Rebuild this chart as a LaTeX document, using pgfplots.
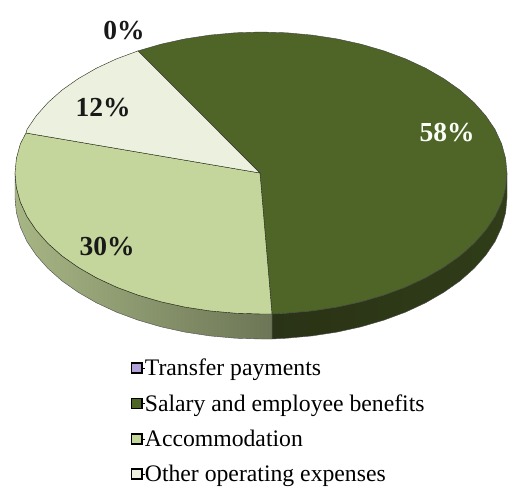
\documentclass[border=0pt]{standalone}
\usepackage{pgfplots}
\pgfplotsset{compat=1.18}
\usepackage{fontspec}
\setmainfont{Liberation Serif}
\definecolor{salary}{HTML}{4F6528}
\definecolor{accom}{HTML}{C5D69C}
\definecolor{other}{HTML}{EBF1DE}
\definecolor{transfer}{HTML}{B3A2D8}
\definecolor{walldarkA}{HTML}{2A3316}
\definecolor{walldarkB}{HTML}{303D18}
\begin{document}
\begin{tikzpicture}
\path (0,0) rectangle (512pt,498pt);
\begin{axis}[
  at={(0,0)}, anchor=south west,
  scale only axis, width=512pt, height=498pt,
  xmin=0, xmax=512, ymin=0, ymax=498, y dir=reverse,
  hide axis, clip=false, no marks,
  legend cell align=left,
  legend style={at={(axis cs:130.5,359)}, anchor=north west, draw=none, fill=none,
    font=\fontsize{23.7}{25}\selectfont, row sep=17.3pt, inner sep=0pt, outer sep=0pt,
    nodes={inner sep=0pt, outer sep=0pt}},
  legend image code/.code={
    \path (0pt,0pt) -- (14pt,0pt);
    \path[#1, draw=black, line width=1.6pt] (0.8pt,-5pt) rectangle (11pt,5.2pt);
  },
]
% Side wall below the salary slice
\addplot[forget plot, draw=black!70, line width=.4pt, left color=walldarkA, right color=walldarkB] coordinates {
 (272,314) (286.7,313.2) (312.1,310.9) (337,307.1) (361.1,301.8) (384,295.1) (405.6,287.1) (425.6,277.8) (443.8,267.3) (460,255.9) (474,243.5) (485.7,230.3) (495,216.6) (501.6,202.3) (505.6,187.7) (507,173)
 (507,198) (505.6,212.7) (501.6,227.3) (495,241.6) (485.7,255.3) (474,268.5) (460,280.9) (443.8,292.3) (425.6,302.8) (405.6,312.1) (384,320.1) (361.1,326.8) (337,332.1) (312.1,335.9) (286.7,338.2) (272,339)
} -- cycle;
% Side wall below the accommodation slice
\addplot[forget plot, draw=black!70, line width=.4pt, left color=accom!85!black, right color=accom!55!black] coordinates {
 (272,314) (261,314) (235.3,313.2) (209.9,310.9) (185,307.1) (160.9,301.8) (138,295.1) (116.4,287.1) (96.4,277.8) (78.2,267.3) (62,255.9) (48,243.5) (36.3,230.3) (27,216.6) (20.4,202.3) (16.4,187.7) (15,173)
 (15,198) (16.4,212.7) (20.4,227.3) (27,241.6) (36.3,255.3) (48,268.5) (62,280.9) (78.2,292.3) (96.4,302.8) (116.4,312.1) (138,320.1) (160.9,326.8) (185,332.1) (209.9,335.9) (235.3,338.2) (261,339) (272,339)
} -- cycle;
% Top face: salary and employee benefits
\addplot[forget plot, fill=salary, draw=black!75, line width=.4pt] coordinates {
 (260,173) (138,50.9) (160.9,44.2) (185,38.9) (209.9,35.1) (235.3,32.8) (261,32) (286.7,32.8) (312.1,35.1) (337,38.9) (361.1,44.2) (384,50.9) (405.6,58.9) (425.6,68.2) (443.8,78.7) (460,90.1) (474,102.5) (485.7,115.7) (495,129.4) (501.6,143.7) (505.6,158.3) (507,173) (505.6,187.7) (501.6,202.3) (495,216.6) (485.7,230.3) (474,243.5) (460,255.9) (443.8,267.3) (425.6,277.8) (405.6,287.1) (384,295.1) (361.1,301.8) (337,307.1) (312.1,310.9) (286.7,313.2) (272,314)
} -- cycle;
% Top face: accommodation
\addplot[forget plot, fill=accom, draw=black!70!salary, line width=.4pt] coordinates {
 (260,173) (272,314) (261,314) (235.3,313.2) (209.9,310.9) (185,307.1) (160.9,301.8) (138,295.1) (116.4,287.1) (96.4,277.8) (78.2,267.3) (62,255.9) (48,243.5) (36.3,230.3) (27,216.6) (20.4,202.3) (16.4,187.7) (15,173) (16.4,158.3) (20.4,143.7) (26,133)
} -- cycle;
% Top face: other operating expenses
\addplot[forget plot, fill=other, draw=black!60!salary, line width=.4pt] coordinates {
 (260,173) (26,133) (27,129.4) (36.3,115.7) (48,102.5) (62,90.1) (78.2,78.7) (96.4,68.2) (116.4,58.9) (138,50.9)
} -- cycle;
% Transfer payments: a slice of no width
\addplot[forget plot, fill=transfer, draw=black!60!salary, line width=.2pt] coordinates {(260,173) (138,50.9) (138,50.9)} -- cycle;

\addlegendimage{fill=transfer}
\addlegendentry{Transfer payments}
\addlegendimage{fill=salary}
\addlegendentry{Salary and employee benefits}
\addlegendimage{fill=accom}
\addlegendentry{Accommodation}
\addlegendimage{fill=other}
\addlegendentry{Other operating expenses}

\node[font=\bfseries\fontsize{27.5}{27.5}\selectfont, text=white!92!accom] at (axis cs:447,133) {58\%};
\node[font=\bfseries\fontsize{27.5}{27.5}\selectfont, text=black!90] at (axis cs:107,247) {30\%};
\node[font=\bfseries\fontsize{27.5}{27.5}\selectfont, text=black!90] at (axis cs:103,108) {12\%};
\node[font=\bfseries\fontsize{27.5}{27.5}\selectfont, text=black!90] at (axis cs:124,31) {0\%};
\end{axis}
\end{tikzpicture}
\end{document}
